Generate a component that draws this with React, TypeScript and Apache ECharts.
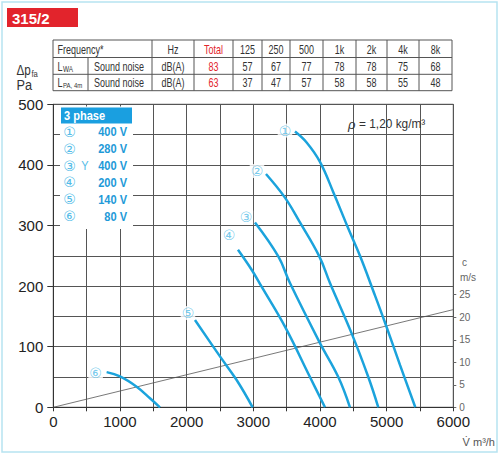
import React, { useEffect, useRef } from 'react';
import * as echarts from 'echarts';

// ---------- data ----------
const chartTitle = '315/2';
const freqBands = ['125', '250', '500', '1k', '2k', '4k', '8k'];
const lwaTotal = 83;
const lwaValues = [57, 67, 77, 78, 78, 75, 68];
const lpaTotal = 63;
const lpaValues = [37, 47, 57, 58, 58, 55, 48];

const curveMarks = ['①', '②', '③', '④', '⑤', '⑥'];
const voltages = ['400 V', '280 V', '400 V', '200 V', '140 V', '80 V'];
const connections = ['', '', 'Y', '', '', ''];

// airflow (m3/h), pressure (Pa)
const curve1 = [[3625, 455], [3800, 437], [4000, 405], [4200, 355], [4425, 295], [4600, 250], [4800, 192], [4975, 140], [5200, 70], [5430, 0]];
const curve2 = [[3190, 385], [3475, 346], [3700, 305], [3990, 249], [4150, 205], [4475, 122], [4725, 50], [4875, 0]];
const curve3 = [[3025, 305], [3375, 249], [3550, 205], [4000, 106], [4275, 50], [4450, 0]];
const curve4 = [[2770, 260], [2975, 227], [3125, 199], [3475, 133], [3850, 50], [4075, 0]];
const curve5 = [[2125, 144], [2500, 84], [2750, 45], [2990, 0]];
const curve6 = [[800, 58], [1000, 51], [1250, 34], [1450, 15], [1600, 0]];
const curves = [curve1, curve2, curve3, curve4, curve5, curve6];

// duct velocity line: airflow (m3/h), velocity (m/s)
const velocityLine = [[0, 0], [6000, 21.7]];
const velocityTicks = [0, 5, 10, 15, 20, 25];

// ---------- styles ----------
const SANS = '"Liberation Sans", Arial, Helvetica, sans-serif';
const CIRCLED = '"DejaVu Sans", sans-serif';
const BLUE = '#1ba3dc';
const LIGHTBLUE = '#55bde8';
const RED = '#e2242c';
const labelOffsets = [[-10, -1], [-9, -3], [-9, -5], [-9, -15], [-7, -7], [-11, 1]];

function txt(x: number, y: number, text: string, opts: any = {}) {
  const align = opts.align || 'left';
  return {
    type: 'text',
    x,
    y,
    scaleX: opts.scaleX ?? 1,
    z: opts.z ?? 20,
    style: {
      text,
      fill: opts.fill || '#333',
      fontSize: opts.fontSize || 12,
      fontFamily: opts.fontFamily || SANS,
      fontWeight: opts.fontWeight || 'normal',
      fontStyle: opts.fontStyle || 'normal',
      textAlign: align,
      align,
      textVerticalAlign: 'middle',
      verticalAlign: 'middle',
    },
  };
}

function line(x1: number, y1: number, x2: number, y2: number, color = '#555', w = 1) {
  return { type: 'line', z: 20, shape: { x1, y1, x2, y2 }, style: { stroke: color, lineWidth: w } };
}

function buildGraphics() {
  const g: any[] = [];
  const T = { fontSize: 12, scaleX: 0.75, fill: '#333' };
  // outer frame
  g.push({ type: 'rect', z: 1, shape: { x: 2, y: 2, width: 495, height: 450 }, style: { fill: 'none', stroke: '#b7e3f1', lineWidth: 1.5 } });
  // title
  g.push({ type: 'rect', z: 20, shape: { x: 7, y: 8, width: 71, height: 19 }, style: { fill: RED } });
  g.push(txt(12, 18, chartTitle, { fill: '#fff', fontSize: 15, fontWeight: 'bold' }));

  // table
  const cols = [53, 88, 152, 194, 233, 262, 290, 323, 356, 387, 419, 452];
  const rows = [40, 57.5, 74.3, 90.7];
  rows.forEach((y) => g.push(line(53, y, 452, y)));
  cols.forEach((x, i) => g.push(line(x, i === 1 ? rows[1] : rows[0], x, rows[3])));
  const mid = (i: number) => (cols[i] + cols[i + 1]) / 2;
  const ry = [49, 66, 82.5];
  g.push(txt(57.5, ry[0], 'Frequency*', T));
  g.push(txt(mid(2), ry[0], 'Hz', { ...T, align: 'center' }));
  g.push(txt(mid(3), ry[0], 'Total', { ...T, align: 'center', fill: RED }));
  freqBands.forEach((f, i) => g.push(txt(mid(4 + i), ry[0], f, { ...T, align: 'center' })));

  g.push(txt(57.5, ry[1], 'L', T));
  g.push(txt(63, ry[1] + 3, 'WA', { ...T, fontSize: 8.5 }));
  g.push(txt(57.5, ry[2], 'L', T));
  g.push(txt(63, ry[2] + 3, 'PA, 4m', { ...T, fontSize: 8 }));
  [1, 2].forEach((r) => {
    g.push(txt(94, ry[r], 'Sound noise', T));
    g.push(txt(mid(2), ry[r], 'dB(A)', { ...T, align: 'center' }));
  });
  g.push(txt(mid(3), ry[1], String(lwaTotal), { ...T, align: 'center', fill: RED }));
  g.push(txt(mid(3), ry[2], String(lpaTotal), { ...T, align: 'center', fill: RED }));
  lwaValues.forEach((v, i) => g.push(txt(mid(4 + i), ry[1], String(v), { ...T, align: 'center' })));
  lpaValues.forEach((v, i) => g.push(txt(mid(4 + i), ry[2], String(v), { ...T, align: 'center' })));

  // y axis name
  g.push(txt(16.5, 70, 'Δp', { fontSize: 15, scaleX: 0.78 }));
  g.push(txt(31.5, 73.5, 'fa', { fontSize: 9, scaleX: 0.85 }));
  g.push(txt(16.5, 84.5, 'Pa', { fontSize: 15, scaleX: 0.85 }));

  // right axis name
  g.push(txt(462, 262, 'c', { fontSize: 10, fill: '#666' }));
  g.push(txt(460, 277, 'm/s', { fontSize: 10, fill: '#666' }));
  // x axis name
  g.push(txt(495, 442, 'V\u0307 m³/h', { align: 'right', fontSize: 11, fill: '#555' }));
  // density
  g.push(txt(348, 124, 'ρ', { fontSize: 13, fill: '#333', fontStyle: 'italic' }));
  g.push(txt(359, 123.5, '= 1,20 kg/m³', { fontSize: 12.5, fill: '#333', scaleX: 0.95 }));

  // legend
  g.push({ type: 'rect', z: 15, shape: { x: 60, y: 106.5, width: 73, height: 122.5 }, style: { fill: '#fff' } });
  g.push({ type: 'rect', z: 16, shape: { x: 61, y: 107.5, width: 71, height: 16 }, style: { fill: '#1a9fe0' } });
  g.push(txt(64, 115.8, '3 phase', { fill: '#fff', fontSize: 13, fontWeight: 'bold', scaleX: 0.85 }));
  voltages.forEach((v, i) => {
    const y = 131.7 + i * 16.9;
    g.push(txt(69.5, y, curveMarks[i], { align: 'center', fill: LIGHTBLUE, fontSize: 14, fontFamily: CIRCLED }));
    if (connections[i]) g.push(txt(85, y, connections[i], { align: 'center', fill: LIGHTBLUE, fontSize: 13, scaleX: 0.85 }));
    g.push(txt(127, y, v, { align: 'right', fill: '#1e9ad8', fontSize: 13, fontWeight: 'bold', scaleX: 0.85 }));
  });
  return g;
}

export default function App() {
  const ref = useRef<HTMLDivElement>(null);
  useEffect(() => {
    if (!ref.current) return;
    const chart = echarts.init(ref.current, null, { renderer: 'svg' });
    const gridColor = '#555';
    const series: any[] = curves.map((c, i) => ({
      type: 'line',
      name: 'curve' + (i + 1),
      data: c,
      smooth: 0.4,
      showSymbol: false,
      symbol: 'none',
      lineStyle: { color: BLUE, width: 2.5 },
      z: 5,
    }));
    series.push({
      type: 'line',
      name: 'velocity',
      yAxisIndex: 1,
      data: velocityLine,
      showSymbol: false,
      symbol: 'none',
      lineStyle: { color: '#555', width: 0.8 },
      z: 4,
    });
    series.push({
      type: 'scatter',
      name: 'marks',
      symbolSize: 0,
      silent: true,
      z: 8,
      data: curves.map((c, i) => ({
        value: c[0],
        label: {
          show: true,
          position: 'inside',
          offset: labelOffsets[i],
          formatter: curveMarks[i],
          color: LIGHTBLUE,
          fontSize: 14,
          fontFamily: CIRCLED,
          backgroundColor: '#fff',
          padding: [0, 1],
        },
      })),
    });

    chart.setOption({
      animation: false,
      backgroundColor: '#fff',
      grid: {
        left: 53.3,
        right: 46.7,
        top: 104.3,
        bottom: 49.7,
        show: true,
        borderColor: '#444',
        borderWidth: 1,
        backgroundColor: 'transparent',
      },
      xAxis: {
        type: 'value',
        min: 0,
        max: 6000,
        interval: 1000,
        axisLine: { show: true, lineStyle: { color: '#333', width: 1 } },
        axisTick: { show: true, length: 4, lineStyle: { color: '#333' } },
        minorTick: { show: true, splitNumber: 2, length: 4, lineStyle: { color: '#333' } },
        splitLine: { show: true, lineStyle: { color: gridColor, width: 1 } },
        minorSplitLine: { show: true, lineStyle: { color: gridColor, width: 1 } },
        axisLabel: { color: '#222', fontSize: 15, fontFamily: SANS, margin: 7, formatter: (v: number) => String(v) },
      },
      yAxis: [
        {
          type: 'value',
          min: 0,
          max: 500,
          interval: 100,
          axisLine: { show: true, lineStyle: { color: '#333', width: 1 } },
          axisTick: { show: true, length: 6, lineStyle: { color: '#333' } },
          minorTick: { show: false, splitNumber: 2 },
          splitLine: { show: true, lineStyle: { color: gridColor, width: 1 } },
          minorSplitLine: { show: true, lineStyle: { color: gridColor, width: 1 } },
          axisLabel: { color: '#222', fontSize: 15, fontFamily: SANS, margin: 10, formatter: (v: number) => String(v) },
        },
        {
          type: 'value',
          position: 'right',
          min: 0,
          max: 67.3,
          interval: 5,
          axisLine: { show: false },
          splitLine: { show: false },
          axisTick: { show: true, length: 3, inside: false, customValues: velocityTicks, lineStyle: { color: '#666' } },
          axisLabel: {
            show: true,
            customValues: velocityTicks,
            color: '#666',
            fontSize: 10,
            fontFamily: SANS,
            margin: 6,
            formatter: (v: number) => (v <= 25 ? String(v) : ''),
          },
        },
      ],
      graphic: { elements: buildGraphics() },
      series,
    });
    return () => chart.dispose();
  }, []);
  return (
    <div
      ref={ref}
      style={{ position: 'fixed', left: 0, top: 0, width: 500, height: 457, background: '#fff' }}
    />
  );
}
